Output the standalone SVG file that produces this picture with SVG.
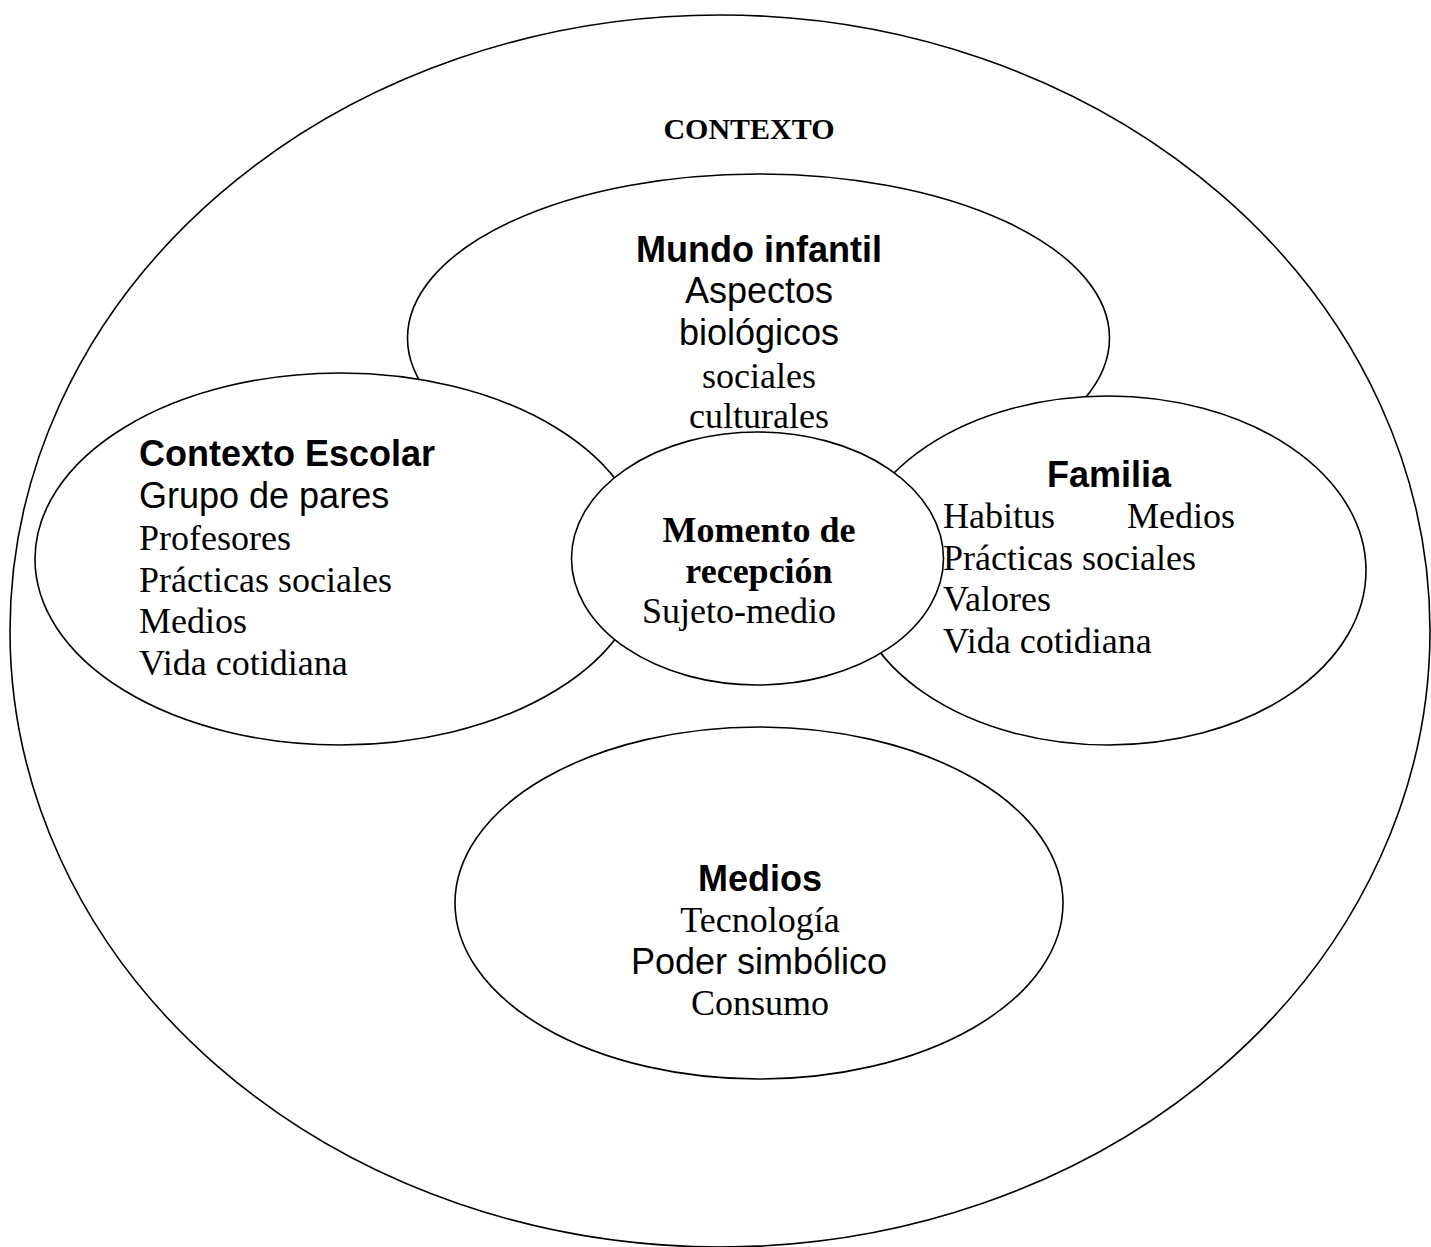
<svg xmlns="http://www.w3.org/2000/svg" width="1431" height="1247" viewBox="0 0 1431 1247">
<style>
.e{fill:#fff;stroke:#000;stroke-width:1.6}
.sb{font-family:"Liberation Sans",Arial,sans-serif;font-weight:bold;font-size:36px}
.s{font-family:"Liberation Sans",Arial,sans-serif;font-size:36px}
.r{font-family:"Liberation Serif","Times New Roman",serif;font-size:36px}
.rb{font-family:"Liberation Serif","Times New Roman",serif;font-weight:bold;font-size:36px}
.m{text-anchor:middle}
</style>
<rect width="1431" height="1247" fill="#fff"/>
<g id="contexto">
<ellipse class="e" cx="720" cy="631" rx="710" ry="616"/>
<text class="rb m" x="749" y="139" style="font-size:30px">CONTEXTO</text>
</g>
<g id="mundo-infantil">
<ellipse class="e" cx="758.5" cy="338" rx="351" ry="164"/>
</g>
<g id="contexto-escolar">
<ellipse class="e" cx="340" cy="559" rx="305" ry="186"/>
</g>
<g id="familia">
<ellipse class="e" cx="1108" cy="570.5" rx="258" ry="174.5"/>
</g>
<g id="momento">
<ellipse class="e" cx="757.5" cy="558.5" rx="186" ry="126.5"/>
</g>
<g id="medios">
<ellipse class="e" cx="759" cy="903" rx="304" ry="176"/>
</g>
<g id="connectors"></g>
<g id="labels">
<g id="mundo-infantil-text">
<text class="sb m" x="759" y="262">Mundo infantil</text>
<text class="s m" x="759" y="303">Aspectos</text>
<text class="s m" x="759" y="345">biológicos</text>
<text class="r m" x="759" y="388">sociales</text>
<text class="r m" x="759" y="428">culturales</text>
</g>
<g id="contexto-escolar-text">
<text class="sb" x="139" y="466">Contexto Escolar</text>
<text class="s" x="139" y="508">Grupo de pares</text>
<text class="r" x="139" y="550">Profesores</text>
<text class="r" x="139" y="592">Prácticas sociales</text>
<text class="r" x="139" y="633">Medios</text>
<text class="r" x="139" y="675">Vida cotidiana</text>
</g>
<g id="familia-text">
<text class="sb m" x="1109" y="487">Familia</text>
<text class="r" y="528"><tspan x="943">Habitus</tspan><tspan x="1127">Medios</tspan></text>
<text class="r" x="943" y="570">Prácticas sociales</text>
<text class="r" x="943" y="611">Valores</text>
<text class="r" x="943" y="653">Vida cotidiana</text>
</g>
<g id="momento-text">
<text class="rb m" x="759" y="542">Momento de</text>
<text class="rb m" x="759" y="583">recepción</text>
<text class="r" x="642" y="623">Sujeto-medio</text>
</g>
<g id="medios-text">
<text class="sb m" x="760" y="891">Medios</text>
<text class="r m" x="760" y="932">Tecnología</text>
<text class="s m" x="759" y="974">Poder simbólico</text>
<text class="r m" x="760" y="1015">Consumo</text>
</g>
</g>
</svg>
